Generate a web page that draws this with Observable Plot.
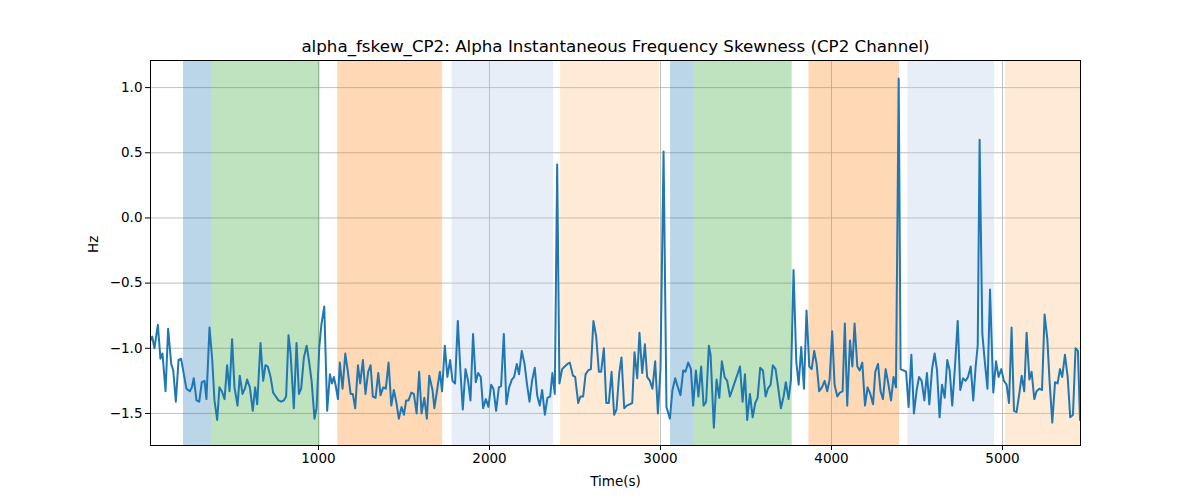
<!DOCTYPE html>
<html>
<head>
<meta charset="utf-8">
<script src="https://cdn.jsdelivr.net/npm/d3@7"></script>
<script src="https://cdn.jsdelivr.net/npm/@observablehq/plot@0.6"></script>
<style>
  html, body { margin: 0; padding: 0; background: #fff; }
</style>
</head>
<body>
<div id="chart"></div>
<script>
const titleText = "alpha_fskew_CP2: Alpha Instantaneous Frequency Skewness (CP2 Channel)";
const xLabel = "Time(s)";
const yLabel = "Hz";
const xTicks = [1000, 2000, 3000, 4000, 5000];
const yTicks = [-1.5, -1.0, -0.5, 0.0, 0.5, 1.0];

const bandStart = [211, 375, 1113, 1782, 2416, 3059, 3195, 3868, 4447, 5018];
const bandEnd   = [375, 1010, 1726, 2375, 2995, 3195, 3770, 4398, 4954, 5456];
const bandKind  = ["A", "B", "C", "D", "E", "A", "B", "C", "D", "E"];
const kindNames = ["A", "B", "C", "D", "E"];
const kindColors = ["#1f77b4", "#2ca02c", "#ff7f0e", "#aec7e8", "#ffbb78"];

const times = [
  18, 28, 41, 61, 76, 88, 106, 121, 139, 151, 166, 182, 197, 213, 228, 248, 260, 271, 287, 303,
  318, 334, 345, 363, 379, 392, 408, 421, 435, 451, 466, 480, 495, 509, 527, 540, 556, 570, 583, 599,
  616, 630, 642, 661, 677, 690, 704, 720, 735, 751, 766, 782, 798, 811, 825,
  837, 856, 872, 886, 899, 915, 931, 944, 960, 977, 989, 1005, 1018, 1034, 1051, 1067, 1079, 1090, 1100, 1114,
  1125, 1141, 1157, 1172, 1188, 1201, 1215, 1231, 1244, 1260, 1275, 1291, 1305, 1318, 1334, 1350, 1363, 1379, 1394, 1410,
  1426, 1441, 1455, 1470, 1486, 1500, 1513, 1527, 1543, 1558, 1574, 1589, 1603, 1619, 1634, 1648,
  1667, 1678, 1694, 1710, 1723, 1739, 1754, 1770, 1784, 1799, 1815, 1830, 1844, 1860, 1875, 1889, 1904, 1920, 1934,
  1949, 1963, 1979, 1994, 2010, 2023, 2039, 2055, 2068, 2084, 2099, 2115, 2131, 2144, 2160, 2173, 2189, 2205, 2218,
  2234, 2249, 2265, 2279, 2294, 2308, 2324, 2339, 2355, 2368, 2382, 2396, 2409, 2425, 2440, 2456, 2470,
  2488, 2501, 2519, 2532, 2548, 2562, 2577, 2593, 2608, 2624, 2640, 2653, 2669, 2683, 2698, 2714, 2729, 2743, 2759,
  2772, 2788, 2803, 2819, 2835, 2848, 2864, 2877, 2893, 2909, 2922, 2938, 2953, 2969, 2985, 3000, 3018, 3035, 3055,
  3070, 3086, 3102, 3117, 3133, 3146, 3162, 3178, 3191, 3207, 3222, 3238, 3252, 3267, 3283,
  3293, 3312, 3328, 3344, 3359, 3375, 3390, 3406, 3422, 3437, 3453, 3465, 3480, 3494, 3507, 3523, 3539, 3554, 3568,
  3583, 3599, 3615, 3628, 3644, 3657, 3673, 3689, 3704, 3720, 3733, 3749, 3763, 3778, 3794, 3808, 3823, 3839, 3854,
  3870, 3884, 3899, 3913, 3928, 3944, 3960, 3975, 3989, 4004, 4018, 4034, 4049, 4065, 4078, 4092, 4108,
  4122, 4135, 4151, 4165, 4180, 4196, 4211, 4227, 4243, 4256, 4272, 4287, 4301, 4317, 4332, 4348, 4363, 4377, 4393,
  4404, 4420, 4436, 4451, 4467, 4482, 4498, 4512, 4527, 4543, 4558, 4572, 4588, 4603, 4617, 4632, 4646, 4662, 4677,
  4691, 4706, 4722, 4738, 4753, 4769, 4784, 4798, 4814, 4829, 4843, 4855, 4866, 4882, 4897, 4912, 4927,
  4946, 4962, 4977, 4993, 5008, 5024, 5038, 5053, 5067, 5082, 5098, 5112, 5127, 5141, 5157, 5170, 5186, 5199, 5215,
  5231, 5246, 5262, 5275, 5291, 5307, 5322, 5336, 5349, 5365, 5381, 5396, 5412, 5427, 5441, 5453
];

const values = [
  -0.94, -0.91, -1.00, -0.82, -1.08, -1.04, -1.33, -0.85, -1.12, -1.17, -1.41, -1.09, -1.08, -1.20, -1.31, -1.33, -1.30, -1.23, -1.40, -1.41,
  -1.26, -1.25, -1.39, -0.84, -1.09, -1.40, -1.55, -1.30, -1.33, -1.39, -1.13, -1.33, -0.93, -1.30, -1.44, -1.21, -1.35, -1.31, -1.24, -1.30,
  -1.48, -1.30, -1.43, -0.96, -1.25, -1.13, -1.14, -1.22, -1.34, -1.37, -1.40, -1.41, -1.40, -1.37, -0.90,
  -1.04, -1.46, -0.96, -1.35, -1.31, -1.07, -0.98, -1.09, -1.25, -1.54, -1.46, -0.99, -0.81, -0.68, -1.48, -1.20, -1.27, -1.22, -1.28, -1.39,
  -1.11, -1.31, -1.04, -1.18, -1.35, -1.35, -1.46, -1.13, -1.27, -1.09, -1.35, -1.18, -1.13, -1.37, -1.38, -1.19, -1.36, -1.30, -1.31, -1.11,
  -1.44, -1.32, -1.41, -1.54, -1.45, -1.51, -1.40, -1.40, -1.34, -1.35, -1.50, -1.18, -1.50, -1.38, -1.54, -1.21,
  -1.32, -1.46, -1.32, -1.18, -1.33, -0.98, -1.22, -1.09, -1.25, -1.27, -0.79, -1.17, -1.47, -1.16, -1.25, -1.40, -0.89, -1.26, -1.19,
  -1.22, -1.46, -1.39, -1.45, -1.28, -1.31, -1.48, -1.30, -1.29, -0.89, -1.43, -1.30, -1.24, -1.22, -1.12, -1.20, -1.02, -1.12, -1.26,
  -1.41, -1.25, -1.15, -1.36, -1.44, -1.32, -1.51, -1.38, -1.37, -1.19, -1.35, 0.41, -1.27, -1.16, -1.14, -1.12, -1.11,
  -1.21, -1.22, -1.42, -1.37, -1.37, -1.20, -1.17, -1.16, -0.79, -0.91, -1.18, -1.18, -1.00, -1.42, -1.42, -1.18, -1.51, -1.47, -1.19,
  -1.07, -1.46, -1.44, -1.43, -1.42, -1.03, -1.23, -0.88, -1.19, -0.97, -1.22, -1.25, -1.31, -1.10, -1.50, -1.16, 0.51, -1.45, -1.54,
  -1.32, -1.23, -1.30, -1.36, -1.17, -1.18, -1.11, -1.16, -1.44, -1.17, -1.37, -1.14, -1.44, -1.41, -0.98,
  -1.05, -1.61, -1.24, -1.38, -1.10, -1.22, -1.25, -1.37, -1.31, -1.25, -1.19, -1.14, -1.41, -1.20, -1.55, -1.35, -1.53, -1.42, -1.38,
  -1.15, -1.17, -1.37, -1.31, -1.28, -1.13, -1.16, -1.31, -1.46, -1.37, -1.26, -1.39, -1.24, -0.40, -1.10, -1.28, -0.99, -1.31, -0.71,
  -1.14, -1.16, -1.02, -1.12, -1.33, -1.30, -1.25, -1.33, -1.24, -0.87, -1.28, -1.37, -1.34, -1.33, -0.81, -1.44, -0.94,
  -1.14, -0.81, -1.14, -1.17, -1.11, -1.44, -1.30, -1.35, -1.43, -1.18, -1.12, -1.33, -1.39, -1.16, -1.27, -1.40, -1.22, -1.30, 1.07,
  -1.16, -1.17, -1.18, -1.45, -1.05, -1.50, -1.32, -1.22, -1.25, -1.40, -1.19, -1.43, -1.16, -1.04, -1.17, -1.53, -1.28, -1.38, -1.09,
  -1.17, -1.44, -1.14, -0.79, -1.32, -1.23, -1.25, -1.22, -1.14, -1.40, -1.14, -0.98, 0.60, -0.89, -1.11, -1.31, -0.55,
  -1.34, -1.10, -1.22, -1.16, -1.25, -1.28, -1.42, -0.84, -1.48, -1.49, -1.35, -1.21, -1.33, -0.88, -1.24, -1.18, -1.39, -1.33, -1.31,
  -1.32, -0.74, -0.93, -1.25, -1.57, -1.26, -1.27, -1.16, -1.22, -1.05, -1.22, -1.53, -1.51, -1.00, -1.02, -1.55
];

const xDomain = [18, 5456];
const yDomain = [-1.746, 1.208];

const bands = bandStart.map((s, i) => ({x1: s, x2: bandEnd[i], kind: bandKind[i]}));
const series = times.map((t, i) => ({t, v: values[i]}));

const chart = Plot.plot({
  width: 1200,
  height: 500,
  marginLeft: 150,
  marginRight: 120,
  marginTop: 60,
  marginBottom: 55,
  style: {fontFamily: "DejaVu Sans, sans-serif", fontSize: "13.5px", color: "#000", background: "#fff"},
  x: {domain: xDomain, ticks: xTicks, tickFormat: d3.format("d")},
  y: {domain: yDomain, ticks: yTicks, tickFormat: d3.format(".1f")},
  color: {domain: kindNames, range: kindColors},
  marks: [
    Plot.gridX(xTicks, {stroke: "#b0b0b0", strokeOpacity: 1, strokeWidth: 0.8}),
    Plot.gridY(yTicks, {stroke: "#b0b0b0", strokeOpacity: 1, strokeWidth: 0.8}),
    Plot.rect(bands, {x1: "x1", x2: "x2", fill: "kind", fillOpacity: 0.3}),
    Plot.line(series, {x: "t", y: "v", stroke: "#1f77b4", strokeWidth: 2, clip: true}),
    Plot.frame({stroke: "#000", strokeWidth: 1}),
    Plot.axisX(xTicks, {tickSize: 5, tickPadding: 3, label: null, fontSize: 13.5, tickFormat: d3.format("d")}),
    Plot.axisY(yTicks, {tickSize: 5, tickPadding: 3, label: null, fontSize: 13.5, tickFormat: d3.format(".1f")}),
    Plot.text([titleText], {frameAnchor: "top", lineAnchor: "middle", dy: -14, fontSize: 16.7, fill: "#000"}),
    Plot.text([xLabel], {frameAnchor: "bottom", lineAnchor: "middle", dy: 36, fontSize: 13.5, fill: "#000"}),
    Plot.text([yLabel], {frameAnchor: "left", dx: -57, rotate: -90, fontSize: 13.5, fill: "#000"})
  ]
});
document.getElementById("chart").appendChild(chart);
</script>
</body>
</html>
